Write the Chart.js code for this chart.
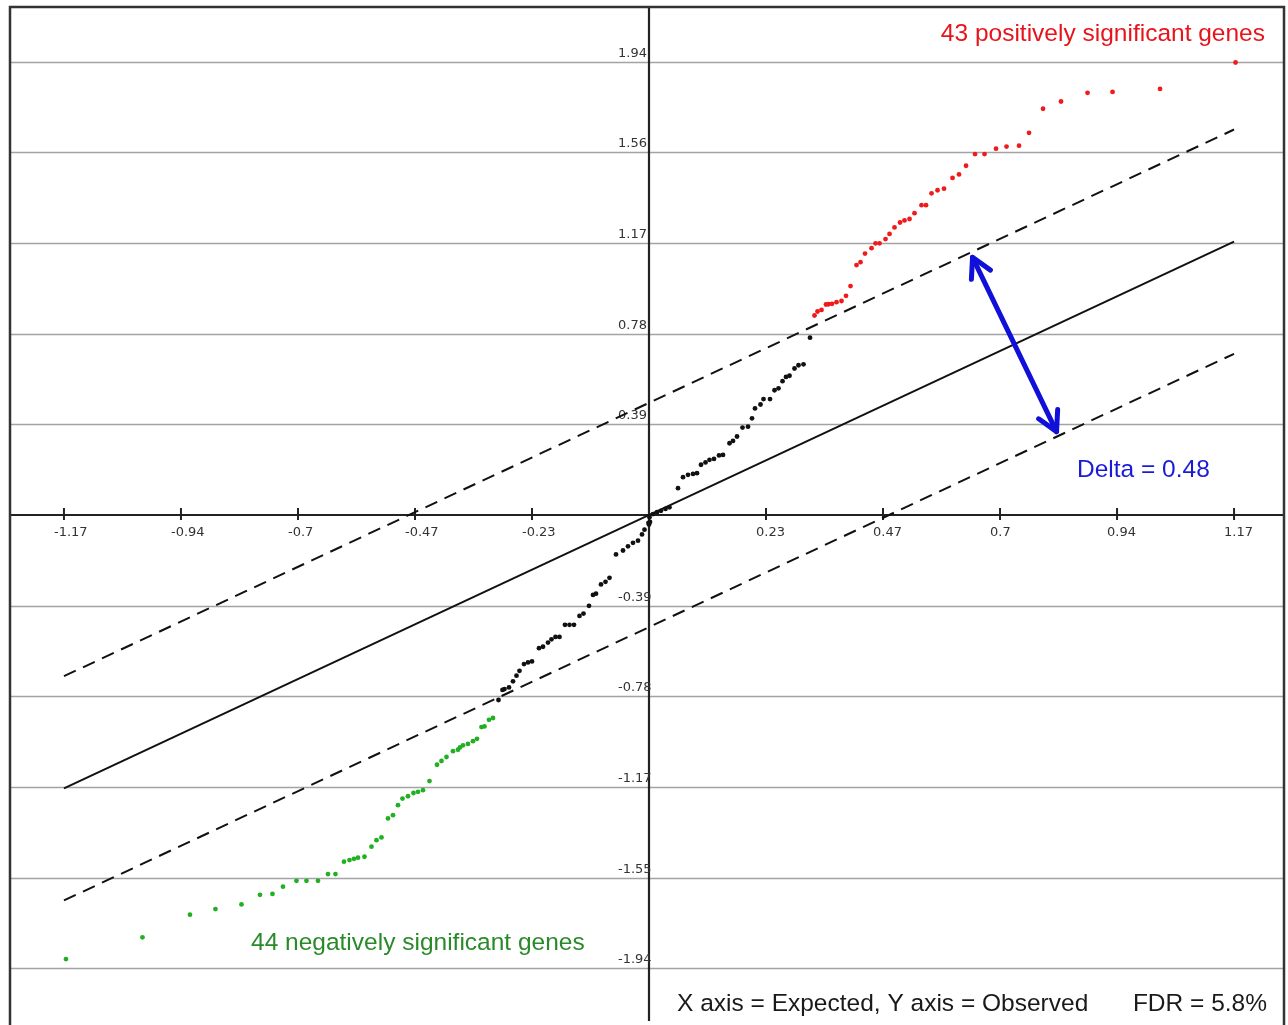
<!DOCTYPE html>
<html>
<head>
<meta charset="utf-8">
<script src="https://cdn.jsdelivr.net/npm/chart.js@4"></script>
<style>
  html, body { margin: 0; padding: 0; background: #ffffff; }
  #wrap { width: 1288px; height: 1025px; }
</style>
</head>
<body>
<div id="wrap"><canvas id="c" width="1288" height="1025"></canvas></div>
<script>
// ---- tick values and labels ----
const xTickValues = [-1.17, -0.936, -0.702, -0.468, -0.234, 0.234, 0.468, 0.702, 0.936, 1.17];
const xTickLabels = ["-1.17", "-0.94", "-0.7", "-0.47", "-0.23", "0.23", "0.47", "0.7", "0.94", "1.17"];
const yTickValues = [1.94, 1.552, 1.164, 0.776, 0.388, -0.388, -0.776, -1.164, -1.552, -1.94];
const yTickLabels = ["1.94", "1.56", "1.17", "0.78", "0.39", "-0.39", "-0.78", "-1.17", "-1.55", "-1.94"];

// ---- significant genes (expected, observed) ----
const redX = [1.173, 1.022, 0.927, 0.877, 0.824, 0.788, 0.760, 0.740, 0.715, 0.694, 0.671, 0.652, 0.634, 0.620, 0.607,
  0.590, 0.577, 0.565, 0.554, 0.545, 0.531, 0.521, 0.511, 0.502, 0.491, 0.481, 0.473, 0.461, 0.453, 0.445, 0.432,
  0.423, 0.415, 0.403, 0.394, 0.385, 0.375, 0.366, 0.359, 0.354, 0.345, 0.337, 0.331];
const redY = [1.937, 1.824, 1.811, 1.807, 1.770, 1.739, 1.636, 1.581, 1.577, 1.568, 1.545, 1.545, 1.495, 1.458, 1.443,
  1.397, 1.390, 1.377, 1.326, 1.326, 1.292, 1.267, 1.261, 1.252, 1.231, 1.203, 1.181, 1.163, 1.163, 1.142, 1.119,
  1.082, 1.070, 0.980, 0.938, 0.916, 0.911, 0.904, 0.902, 0.901, 0.878, 0.871, 0.854];

const blackX = [0.322, 0.309, 0.299, 0.291, 0.281, 0.274, 0.267, 0.259, 0.251, 0.242, 0.229, 0.223, 0.212, 0.206,
  0.198, 0.187, 0.176, 0.168, 0.161, 0.148, 0.140, 0.130, 0.121, 0.113, 0.104, 0.096, 0.088, 0.078, 0.068, 0.058,
  0.041, 0.033, 0.024, 0.016, 0.008, 0.001, -0.001, 0.002, -0.000, -0.009, -0.014, -0.022, -0.032, -0.042, -0.052,
  -0.066, -0.079, -0.087, -0.096, -0.106, -0.112, -0.120, -0.131, -0.139, -0.150, -0.159, -0.168, -0.179, -0.187,
  -0.195, -0.202, -0.212, -0.220, -0.234, -0.242, -0.250, -0.259, -0.265, -0.272, -0.280, -0.289, -0.293, -0.301];
const blackY = [0.759, 0.645, 0.641, 0.627, 0.596, 0.591, 0.573, 0.542, 0.534, 0.496, 0.496, 0.473, 0.456, 0.414,
  0.378, 0.374, 0.336, 0.317, 0.307, 0.257, 0.255, 0.240, 0.236, 0.225, 0.215, 0.179, 0.176, 0.172, 0.162, 0.115,
  0.033, 0.026, 0.018, 0.012, 0.004, -0.010, -0.034, -0.030, -0.041, -0.063, -0.083, -0.110, -0.119, -0.134, -0.152,
  -0.169, -0.269, -0.286, -0.297, -0.337, -0.342, -0.389, -0.422, -0.432, -0.470, -0.470, -0.470, -0.522, -0.522,
  -0.532, -0.546, -0.564, -0.570, -0.627, -0.631, -0.638, -0.667, -0.688, -0.712, -0.738, -0.745, -0.749, -0.792];

const greenX = [-1.166, -1.013, -0.918, -0.867, -0.815, -0.778, -0.753, -0.732, -0.705, -0.685, -0.662, -0.642, -0.627,
  -0.610, -0.599, -0.590, -0.582, -0.569, -0.555, -0.545, -0.535, -0.522, -0.512, -0.502, -0.493, -0.482, -0.471,
  -0.462, -0.452, -0.439, -0.424, -0.415, -0.405, -0.392, -0.382, -0.378, -0.372, -0.362, -0.352, -0.344, -0.335,
  -0.329, -0.320, -0.312];
const greenY = [-1.901, -1.808, -1.711, -1.687, -1.667, -1.626, -1.622, -1.591, -1.566, -1.566, -1.566, -1.537, -1.537,
  -1.484, -1.477, -1.472, -1.467, -1.463, -1.420, -1.392, -1.380, -1.299, -1.285, -1.242, -1.214, -1.204, -1.190,
  -1.185, -1.178, -1.139, -1.069, -1.053, -1.036, -1.011, -1.005, -0.995, -0.986, -0.980, -0.968, -0.958, -0.908,
  -0.905, -0.877, -0.869];

// ---- reference lines ----
const lineX = [-1.17, 1.17];
const delta = 0.48;
const arrowFrom = { x: 0.647, y: 1.103 };
const arrowTo = { x: 0.815, y: 0.357 };

const toPts = (xs, ys) => xs.map((x, i) => ({ x: x, y: ys[i] }));
const linePts = (off) => lineX.map(x => ({ x: x, y: x + off }));

const decor = {
  id: 'decor',
  beforeDatasetsDraw(chart) {
    const ctx = chart.ctx, xs = chart.scales.x, ys = chart.scales.y, a = chart.chartArea;
    ctx.save();
    // horizontal grid lines
    ctx.strokeStyle = '#a3a3a3';
    ctx.lineWidth = 1.6;
    yTickValues.forEach(v => {
      const py = Math.round(ys.getPixelForValue(v)) + 0.5;
      ctx.beginPath(); ctx.moveTo(a.left, py); ctx.lineTo(a.right, py); ctx.stroke();
    });
    // axes
    ctx.strokeStyle = '#222';
    ctx.lineWidth = 2.2;
    const x0 = xs.getPixelForValue(0), y0 = ys.getPixelForValue(0);
    ctx.beginPath(); ctx.moveTo(a.left, y0); ctx.lineTo(a.right, y0); ctx.stroke();
    ctx.beginPath(); ctx.moveTo(x0, a.top); ctx.lineTo(x0, a.bottom); ctx.stroke();
    // x tick marks
    ctx.lineWidth = 2;
    xTickValues.forEach(v => {
      const px = xs.getPixelForValue(v);
      ctx.beginPath(); ctx.moveTo(px, y0 - 7); ctx.lineTo(px, y0 + 5); ctx.stroke();
    });
    // tick labels
    ctx.fillStyle = '#333';
    ctx.font = '13px "DejaVu Sans"';
    ctx.textBaseline = 'alphabetic';
    ctx.textAlign = 'left';
    xTickValues.forEach((v, i) => {
      ctx.fillText(xTickLabels[i], xs.getPixelForValue(v) - 10, y0 + 21);
    });
    yTickValues.forEach((v, i) => {
      ctx.fillText(yTickLabels[i], x0 - 31, ys.getPixelForValue(v) - 5);
    });
    // outer frame
    ctx.strokeStyle = '#333';
    ctx.lineWidth = 2.5;
    ctx.beginPath();
    ctx.moveTo(a.left, a.bottom + 5); ctx.lineTo(a.left, a.top); ctx.lineTo(a.right, a.top); ctx.lineTo(a.right, a.bottom + 5);
    ctx.stroke();
    ctx.restore();
  },
  afterDraw(chart) {
    const ctx = chart.ctx, xs = chart.scales.x, ys = chart.scales.y;
    ctx.save();
    // delta arrow
    const p1 = { x: xs.getPixelForValue(arrowFrom.x), y: ys.getPixelForValue(arrowFrom.y) };
    const p2 = { x: xs.getPixelForValue(arrowTo.x), y: ys.getPixelForValue(arrowTo.y) };
    ctx.strokeStyle = '#1010d8';
    ctx.lineWidth = 5;
    ctx.lineCap = 'round';
    ctx.lineJoin = 'round';
    ctx.beginPath(); ctx.moveTo(p1.x, p1.y); ctx.lineTo(p2.x, p2.y); ctx.stroke();
    const head = (tip, from) => {
      const ang = Math.atan2(tip.y - from.y, tip.x - from.x);
      const L = 22, sp = 0.5;
      ctx.beginPath();
      ctx.moveTo(tip.x - L * Math.cos(ang - sp), tip.y - L * Math.sin(ang - sp));
      ctx.lineTo(tip.x, tip.y);
      ctx.lineTo(tip.x - L * Math.cos(ang + sp), tip.y - L * Math.sin(ang + sp));
      ctx.stroke();
    };
    head(p1, p2); head(p2, p1);
    // annotations
    ctx.font = '24.5px "Liberation Sans", Arial, sans-serif';
    ctx.textBaseline = 'alphabetic';
    ctx.textAlign = 'right';
    ctx.fillStyle = '#e8141c';
    ctx.fillText('43 positively significant genes', 1265, 41);
    ctx.textAlign = 'left';
    ctx.fillStyle = '#2a8a2a';
    ctx.fillText('44 negatively significant genes', 251, 950);
    ctx.fillStyle = '#1a1ad8';
    ctx.fillText('Delta = 0.48', 1077, 477);
    ctx.fillStyle = '#1a1a1a';
    ctx.fillText('X axis = Expected, Y axis = Observed', 677, 1011);
    ctx.textAlign = 'right';
    ctx.fillText('FDR = 5.8%', 1267, 1011);
    ctx.restore();
  }
};

new Chart(document.getElementById('c'), {
  type: 'scatter',
  data: {
    datasets: [
      { label: 'y = x', data: linePts(0), showLine: true, borderColor: '#111', borderWidth: 2, pointRadius: 0, fill: false },
      { label: 'upper', data: linePts(delta), showLine: true, borderColor: '#111', borderWidth: 2, borderDash: [13, 8], pointRadius: 0, fill: false },
      { label: 'lower', data: linePts(-delta), showLine: true, borderColor: '#111', borderWidth: 2, borderDash: [13, 8], pointRadius: 0, fill: false },
      { label: 'positive', data: toPts(redX, redY), backgroundColor: '#f01a1a', borderWidth: 0, pointRadius: 2.4 },
      { label: 'not significant', data: toPts(blackX, blackY), backgroundColor: '#111', borderWidth: 0, pointRadius: 2.4 },
      { label: 'negative', data: toPts(greenX, greenY), backgroundColor: '#22b022', borderWidth: 0, pointRadius: 2.4 }
    ]
  },
  options: {
    responsive: false,
    animation: false,
    events: [],
    layout: { padding: { top: 7, left: 10, right: 3, bottom: 0 } },
    plugins: { legend: { display: false }, tooltip: { enabled: false }, title: { display: false } },
    scales: {
      x: { type: 'linear', display: false, min: -1.2779, max: 1.2699 },
      y: { type: 'linear', display: false, min: -2.166, max: 2.1745 }
    }
  },
  plugins: [decor]
});
</script>
</body>
</html>
